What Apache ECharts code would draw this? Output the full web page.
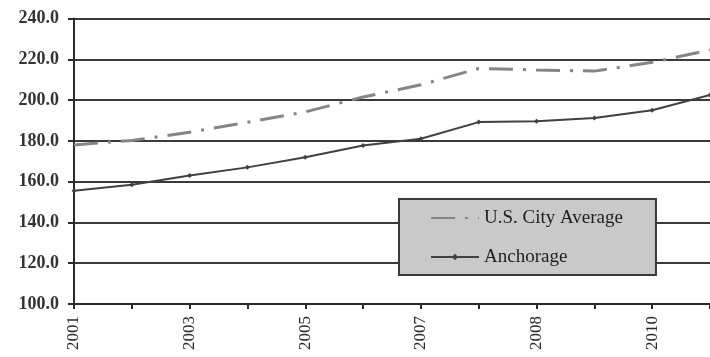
<!DOCTYPE html>
<html>
<head>
<meta charset="utf-8">
<script src="https://cdn.jsdelivr.net/npm/echarts@6/dist/echarts.min.js"></script>
<style>html,body{margin:0;padding:0;background:#fff}#c{width:710px;height:357px}</style>
</head>
<body>
<div id="c"></div>
<script>
var categories = ["2001","2002","2003","2004","2005","2006","2007","2007 H2","2008","2009","2010","2011"];
var usCityAverage = [178, 180.2, 184.2, 189.1, 194.2, 201.5, 207.5, 215.5, 214.8, 214.2, 218.5, 224.6];
var anchorage = [155.5, 158.5, 163, 167, 172, 177.7, 181, 189.2, 189.6, 191.2, 195, 202.5];
var yMin = 100, yMax = 240, yStep = 20;

var chart = echarts.init(document.getElementById('c'));
var serif = '"Liberation Serif", "DejaVu Serif", serif';
chart.setOption({
  backgroundColor: '#ffffff',
  animation: false,
  grid: {left: 74, right: -11, top: 18.5, bottom: 53, containLabel: false},
  legend: {
    orient: 'vertical',
    left: 399, top: 199,
    padding: [9, 33, 8, 31],
    itemGap: 19,
    itemWidth: 48, itemHeight: 8,
    backgroundColor: '#c9c9c9',
    borderColor: '#3a3a3a', borderWidth: 2, borderRadius: 0,
    textStyle: {fontFamily: serif, fontSize: 19, color: '#1e1e1e', lineHeight: 20},
    data: [
      {name: 'U.S. City Average', itemStyle: {opacity: 0}},
      {name: 'Anchorage'}
    ]
  },
  xAxis: {
    type: 'category',
    data: categories,
    boundaryGap: false,
    axisLine: {lineStyle: {color: '#2a2a2a', width: 2}},
    axisTick: {show: true, interval: 0, length: 5, lineStyle: {color: '#2a2a2a', width: 2}},
    axisLabel: {interval: 1, rotate: 90, margin: 12, fontFamily: serif, fontSize: 17, color: '#2a2a2a'},
    splitLine: {show: false}
  },
  yAxis: {
    type: 'value',
    min: yMin, max: yMax, interval: yStep,
    axisLine: {show: true, lineStyle: {color: '#2a2a2a', width: 2}},
    axisTick: {show: true, length: 6, lineStyle: {color: '#2a2a2a', width: 2}},
    axisLabel: {margin: 15, fontFamily: serif, fontSize: 18, fontWeight: 'bold', color: '#333',
      formatter: function (v) { return v.toFixed(1); }},
    splitLine: {show: true, lineStyle: {color: '#3a3a3a', width: 2}}
  },
  series: [
    {
      name: 'U.S. City Average', type: 'line', data: usCityAverage,
      symbol: 'none',
      lineStyle: {color: '#858585', width: 3, type: [24, 10, 3, 10]},
      itemStyle: {color: '#858585'}
    },
    {
      name: 'Anchorage', type: 'line', data: anchorage,
      symbol: 'diamond', symbolSize: 5,
      lineStyle: {color: '#404040', width: 2},
      itemStyle: {color: '#404040'}
    }
  ]
});
</script>
</body>
</html>
